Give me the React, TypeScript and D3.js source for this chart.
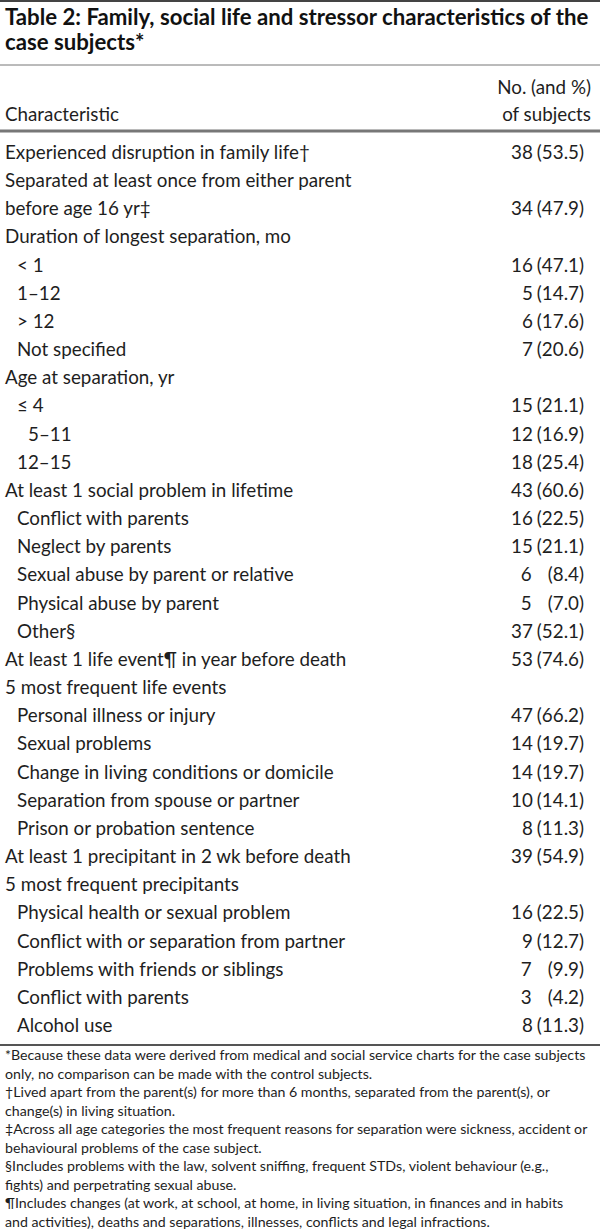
import React, { useRef, useEffect } from "react";
import * as d3 from "d3";

const titleLines = [
  "Table 2: Family, social life and stressor characteristics of the",
  "case subjects*",
];
const headerLeft = "Characteristic";
const headerRight = ["No. (and %)", "of subjects"];

const labels = [
  "Experienced disruption in family life†",
  "Separated at least once from either parent",
  "before age 16 yr‡",
  "Duration of longest separation, mo",
  "< 1",
  "1–12",
  "> 12",
  "Not specified",
  "Age at separation, yr",
  "≤ 4",
  "5–11",
  "12–15",
  "At least 1 social problem in lifetime",
  "Conflict with parents",
  "Neglect by parents",
  "Sexual abuse by parent or relative",
  "Physical abuse by parent",
  "Other§",
  "At least 1 life event¶ in year before death",
  "5 most frequent life events",
  "Personal illness or injury",
  "Sexual problems",
  "Change in living conditions or domicile",
  "Separation from spouse or partner",
  "Prison or probation sentence",
  "At least 1 precipitant in 2 wk before death",
  "5 most frequent precipitants",
  "Physical health or sexual problem",
  "Conflict with or separation from partner",
  "Problems with friends or siblings",
  "Conflict with parents",
  "Alcohol use",
];
const indents = [0, 0, 0, 0, 1, 1, 1, 1, 0, 1, 2, 1, 0, 1, 1, 1, 1, 1, 0, 0, 1, 1, 1, 1, 1, 0, 0, 1, 1, 1, 1, 1];
const counts = [38, null, 34, null, 16, 5, 6, 7, null, 15, 12, 18, 43, 16, 15, 6, 5, 37, 53, null, 47, 14, 14, 10, 8, 39, null, 16, 9, 7, 3, 8];
const percents = [53.5, null, 47.9, null, 47.1, 14.7, 17.6, 20.6, null, 21.1, 16.9, 25.4, 60.6, 22.5, 21.1, 8.4, 7.0, 52.1, 74.6, null, 66.2, 19.7, 19.7, 14.1, 11.3, 54.9, null, 22.5, 12.7, 9.9, 4.2, 11.3];

const footnotes = [
  "*Because these data were derived from medical and social service charts for the case subjects",
  "only, no comparison can be made with the control subjects.",
  "†Lived apart from the parent(s) for more than 6 months, separated from the parent(s), or",
  "change(s) in living situation.",
  "‡Across all age categories the most frequent reasons for separation were sickness, accident or",
  "behavioural problems of the case subject.",
  "§Includes problems with the law, solvent sniffing, frequent STDs, violent behaviour (e.g.,",
  "fights) and perpetrating sexual abuse.",
  "¶Includes changes (at work, at school, at home, in living situation, in finances and in habits",
  "and activities), deaths and separations, illnesses, conflicts and legal infractions.",
];

const FONT = "Lato, 'Open Sans', sans-serif";
const INK = "#1e1e1e";

export default function App() {
  const ref = useRef<SVGSVGElement>(null);

  useEffect(() => {
    if (!ref.current) return;
    const svg = d3.select(ref.current);
    svg.selectAll("*").remove();

    const width = 600;
    const rightEdge = 584;
    const bodySize = 18.8;

    // rules
    const rule = (y: number, w: number, c: string) =>
      svg.append("line").attr("x1", 0).attr("x2", width).attr("y1", y).attr("y2", y)
        .attr("stroke", c).attr("stroke-width", w);
    rule(1, 2, "#444");
    rule(65, 1, "#777");
    rule(131, 3, "#777");
    rule(1045, 2, "#555");

    // title
    svg.append("g").selectAll("text").data(titleLines).join("text")
      .attr("x", 5)
      .attr("y", (d, i) => 25 + i * 25)
      .attr("font-family", FONT)
      .attr("font-weight", "bold")
      .attr("font-size", 22.2)
      .attr("fill", "#111")
      .text((d) => d);

    // header
    svg.append("text").attr("x", 5).attr("y", 121)
      .attr("font-family", FONT).attr("font-size", bodySize).attr("fill", INK)
      .text(headerLeft);
    svg.append("g").selectAll("text").data(headerRight).join("text")
      .attr("x", 591)
      .attr("y", (d, i) => 94 + i * 27)
      .attr("text-anchor", "end")
      .attr("font-family", FONT).attr("font-size", bodySize).attr("fill", INK)
      .text((d) => d);

    // body rows
    const idx = d3.range(labels.length);
    const y = d3.scalePoint<number>().domain(idx).range([153, 1026]);
    const indentX = d3.scaleOrdinal<number, number>().domain([0, 1, 2]).range([5, 17, 28]);

    const rows = svg.append("g").selectAll("g").data(idx).join("g")
      .attr("transform", (i) => `translate(0,${(y(i) ?? 0) + 6})`);

    rows.append("text")
      .attr("x", (i) => indentX(indents[i]))
      .attr("font-family", FONT).attr("font-size", bodySize).attr("fill", INK)
      .text((i) => labels[i]);

    const valueText = rows.filter((i) => counts[i] !== null)
      .append("text")
      .attr("x", rightEdge)
      .attr("text-anchor", "end")
      .attr("font-family", FONT).attr("font-size", bodySize).attr("fill", INK);
    valueText.append("tspan").text((i) => String(counts[i]));
    valueText.append("tspan")
      .attr("dx", (i) => ((percents[i] as number) < 10 ? 16 : 4))
      .text((i) => `(${(percents[i] as number).toFixed(1)})`);

    // footnotes
    svg.append("g").selectAll("text").data(footnotes).join("text")
      .attr("x", 5)
      .attr("y", (d, i) => 1060 + i * 18.5)
      .attr("font-family", FONT).attr("font-size", 14.2).attr("fill", INK)
      .text((d) => d);
  }, []);

  return (
    <svg ref={ref} width={600} height={1232}
      style={{ position: "absolute", top: 0, left: 0, background: "#fff" }} />
  );
}
